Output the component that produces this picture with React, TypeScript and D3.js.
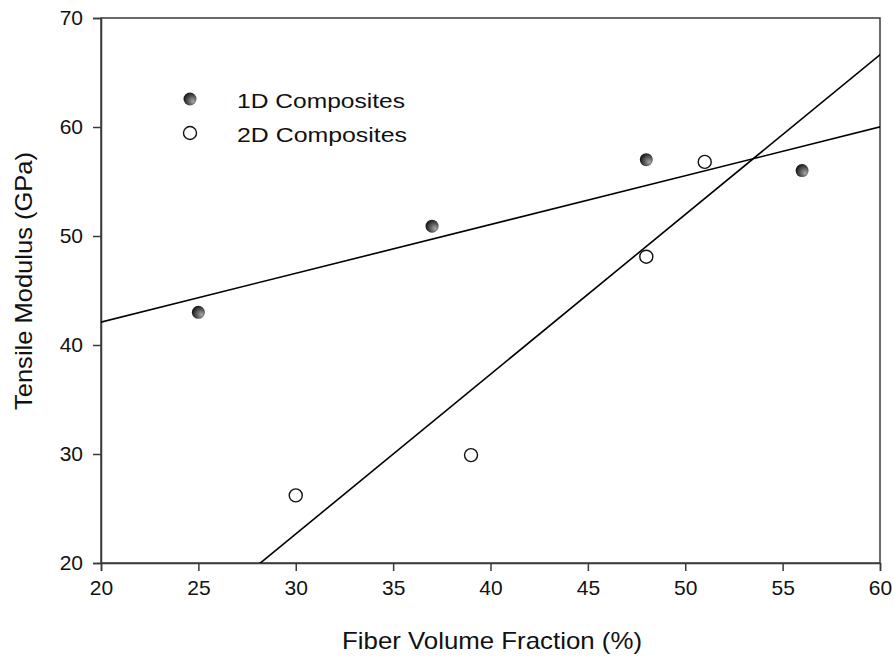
import React, { useRef, useEffect } from "react";
import * as d3 from "d3";

// Fiber volume fraction (%) and tensile modulus (GPa)
const fiber1D = [25, 37, 48, 56];
const modulus1D = [43, 50.9, 57, 56];
const fiber2D = [30, 39, 48, 51];
const modulus2D = [26.2, 29.9, 48.1, 56.8];
const xTicks = [20, 25, 30, 35, 40, 45, 50, 55, 60];
const yTicks = [20, 30, 40, 50, 60, 70];
const legendLabels = ["1D Composites", "2D Composites"];

const W = 894;
const H = 657;
const FONT = "'Liberation Sans', Arial, sans-serif";

function fit(xs, ys) {
  const mx = d3.mean(xs);
  const my = d3.mean(ys);
  const sxy = d3.sum(xs, (x, i) => (x - mx) * (ys[i] - my));
  const sxx = d3.sum(xs, (x) => (x - mx) * (x - mx));
  const b = sxy / sxx;
  return (x) => my + b * (x - mx);
}

function Chart() {
  const svgRef = useRef(null);

  useEffect(() => {
    const svg = d3.select(svgRef.current);
    svg.selectAll("*").remove();

    const x = d3.scaleLinear().domain([20, 60]).range([101, 880]);
    const y = d3.scaleLinear().domain([20, 70]).range([563, 18]);

    const defs = svg.append("defs");
    const grad = defs
      .append("radialGradient")
      .attr("id", "ball")
      .attr("cx", "0.65")
      .attr("cy", "0.6")
      .attr("r", "0.7")
      .attr("fx", "0.75")
      .attr("fy", "0.7");
    grad.append("stop").attr("offset", "0%").attr("stop-color", "#a8a8a8");
    grad.append("stop").attr("offset", "100%").attr("stop-color", "#0a0a0a");

    defs
      .append("clipPath")
      .attr("id", "plotClip")
      .append("rect")
      .attr("x", x(20))
      .attr("y", y(70))
      .attr("width", x(60) - x(20))
      .attr("height", y(20) - y(70));

    // frame
    svg
      .append("rect")
      .attr("x", x(20))
      .attr("y", y(70))
      .attr("width", x(60) - x(20))
      .attr("height", y(20) - y(70))
      .attr("fill", "none")
      .attr("stroke", "#3a3a3a")
      .attr("stroke-width", 1.5);

    const xAxis = svg
      .append("g")
      .attr("transform", `translate(0,${y(20)})`)
      .call(d3.axisBottom(x).tickValues(xTicks).tickSize(8).tickPadding(6).tickFormat(d3.format("d")));
    const yAxis = svg
      .append("g")
      .attr("transform", `translate(${x(20)},0)`)
      .call(d3.axisLeft(y).tickValues(yTicks).tickSize(8).tickPadding(10).tickFormat(d3.format("d")));

    [xAxis, yAxis].forEach((g) => {
      g.select(".domain").attr("stroke", "#3a3a3a").attr("stroke-width", 1.5);
      g.selectAll(".tick line").attr("stroke", "#3a3a3a").attr("stroke-width", 1.5);
      g.selectAll(".tick text")
        .attr("fill", "#111")
        .style("font-family", FONT)
        .style("font-size", "21px");
    });
    xAxis.selectAll(".tick text").attr("dy", "0.71em").attr("y", 17);

    // regression lines
    const plot = svg.append("g").attr("clip-path", "url(#plotClip)");
    const line = d3
      .line()
      .x((d) => x(d[0]))
      .y((d) => y(d[1]));
    [
      fit(fiber1D, modulus1D),
      fit(fiber2D, modulus2D),
    ].forEach((f) => {
      plot
        .append("path")
        .attr("d", line([[10, f(10)], [70, f(70)]]))
        .attr("fill", "none")
        .attr("stroke", "#000")
        .attr("stroke-width", 1.6);
    });

    // points
    svg
      .append("g")
      .selectAll("circle")
      .data(fiber1D)
      .join("circle")
      .attr("cx", (d) => x(d))
      .attr("cy", (d, i) => y(modulus1D[i]))
      .attr("r", 6.5)
      .attr("fill", "url(#ball)");

    svg
      .append("g")
      .selectAll("circle")
      .data(fiber2D)
      .join("circle")
      .attr("cx", (d) => x(d))
      .attr("cy", (d, i) => y(modulus2D[i]))
      .attr("r", 6.5)
      .attr("fill", "#fff")
      .attr("stroke", "#111")
      .attr("stroke-width", 1.4);

    // legend
    const lg = svg.append("g");
    lg.append("circle").attr("cx", 190).attr("cy", 99).attr("r", 6.5).attr("fill", "url(#ball)");
    lg.append("circle")
      .attr("cx", 190)
      .attr("cy", 133)
      .attr("r", 6.5)
      .attr("fill", "#fff")
      .attr("stroke", "#111")
      .attr("stroke-width", 1.4);
    legendLabels.forEach((t, i) => {
      lg.append("text")
        .attr("x", 237)
        .attr("y", 108 + i * 34)
        .attr("textLength", i === 0 ? 168 : 170)
        .attr("lengthAdjust", "spacingAndGlyphs")
        .style("font-family", FONT)
        .style("font-size", "21px")
        .attr("fill", "#111")
        .text(t);
    });

    // axis titles
    svg
      .append("text")
      .attr("x", 492)
      .attr("y", 649)
      .attr("text-anchor", "middle")
      .attr("textLength", 300)
      .attr("lengthAdjust", "spacingAndGlyphs")
      .style("font-family", FONT)
      .style("font-size", "24px")
      .attr("fill", "#111")
      .text("Fiber Volume Fraction (%)");
    svg
      .append("text")
      .attr("transform", "translate(32,281) rotate(-90)")
      .attr("text-anchor", "middle")
      .attr("textLength", 258)
      .attr("lengthAdjust", "spacingAndGlyphs")
      .style("font-family", FONT)
      .style("font-size", "24px")
      .attr("fill", "#111")
      .text("Tensile Modulus (GPa)");
  }, []);

  return (
    <svg
      ref={svgRef}
      width={W}
      height={H}
      style={{ position: "absolute", left: 0, top: 0, background: "#fff" }}
    ></svg>
  );
}

export default function App() {
  return <Chart />;
}
